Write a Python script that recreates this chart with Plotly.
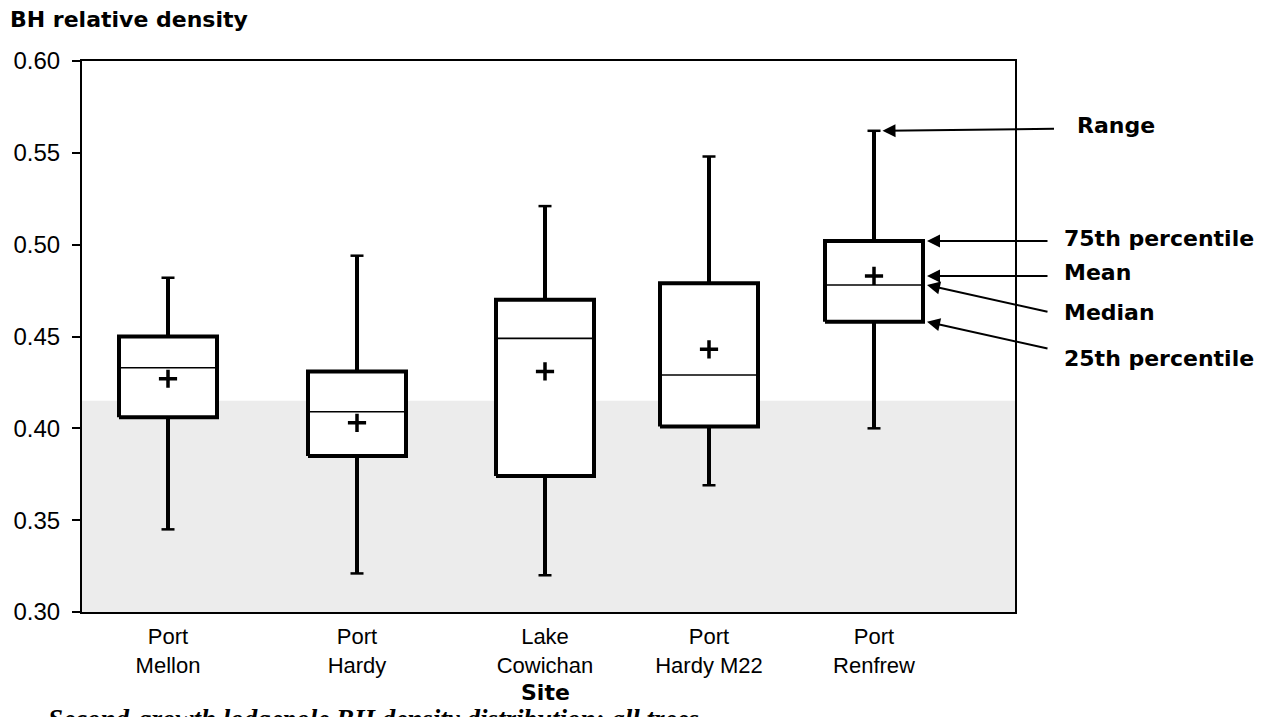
import plotly.graph_objects as go

# ---- data ----
sites = ["Port<br>Mellon", "Port<br>Hardy", "Lake<br>Cowichan", "Port<br>Hardy M22", "Port<br>Renfrew"]
range_max = [0.482, 0.494, 0.521, 0.548, 0.562]
q3_vals = [0.450, 0.431, 0.470, 0.479, 0.502]
median_vals = [0.433, 0.409, 0.449, 0.429, 0.478]
mean_vals = [0.427, 0.403, 0.431, 0.443, 0.483]
q1_vals = [0.406, 0.385, 0.374, 0.401, 0.458]
range_min = [0.345, 0.321, 0.320, 0.369, 0.400]
shade_top = 0.415

# ---- layout helpers (positions / sizes, not data) ----
site_pos = [0.86, 2.75, 4.63, 6.27, 7.92]
half_w = 0.49
cap_w = 0.065
X_MAX = 9.33

BOLD = "DejaVu Sans"
REG = "Liberation Sans, Arial"

fig = go.Figure()

for i, p in enumerate(site_pos):
    # whiskers
    fig.add_trace(go.Scatter(
        x=[p, p, None, p, p],
        y=[q3_vals[i], range_max[i], None, q1_vals[i], range_min[i]],
        mode="lines", line=dict(color="black", width=4),
        hoverinfo="skip", showlegend=False))
    # caps
    fig.add_trace(go.Scatter(
        x=[p - cap_w, p + cap_w, None, p - cap_w, p + cap_w],
        y=[range_max[i], range_max[i], None, range_min[i], range_min[i]],
        mode="lines", line=dict(color="black", width=2.5),
        hoverinfo="skip", showlegend=False))
    # box
    fig.add_trace(go.Scatter(
        x=[p - half_w, p + half_w, p + half_w, p - half_w, p - half_w],
        y=[q1_vals[i], q1_vals[i], q3_vals[i], q3_vals[i], q1_vals[i]],
        mode="lines", fill="toself", fillcolor="white",
        line=dict(color="black", width=4),
        hoverinfo="skip", showlegend=False))
    # median
    fig.add_trace(go.Scatter(
        x=[p - half_w, p + half_w],
        y=[median_vals[i], median_vals[i]],
        mode="lines", line=dict(color="black", width=1.6),
        hoverinfo="skip", showlegend=False))

# means
fig.add_trace(go.Scatter(
    x=site_pos, y=mean_vals, mode="markers",
    marker=dict(symbol="cross-thin", size=13, color="black",
                line=dict(color="black", width=3.5)),
    hoverinfo="skip", showlegend=False))

# shaded band
fig.add_shape(type="rect", xref="paper", yref="y", x0=0, x1=1,
              y0=0.30, y1=shade_top, fillcolor="#ececec",
              line=dict(width=0), layer="below")

# page body has an 8px margin: shift figure margins accordingly
fig.update_layout(
    width=1274, height=717,
    margin=dict(l=74, r=267, t=53, b=113, autoexpand=False),
    paper_bgcolor="white", plot_bgcolor="white",
    xaxis=dict(range=[0, X_MAX], showgrid=False, zeroline=False, automargin=False,
               showline=True, mirror=True, linecolor="black", linewidth=2,
               ticks="", tickvals=site_pos, ticktext=sites,
               ticklabelstandoff=4,
               tickfont=dict(family=REG, size=22, color="black")),
    yaxis=dict(range=[0.30, 0.60], showgrid=False, zeroline=False, automargin=False,
               showline=True, mirror=True, linecolor="black", linewidth=2,
               ticks="outside", ticklen=8, tickwidth=2, tickcolor="black",
               dtick=0.05, tick0=0.30, tickformat=".2f",
               ticklabelstandoff=7,
               tickfont=dict(family=REG, size=24, color="black")),
)

def ptxt(text, x, y, size=22, xanchor="left", yanchor="middle", family=BOLD, **kw):
    fig.add_annotation(text=text, xref="paper", yref="paper", x=x, y=y,
                       xanchor=xanchor, yanchor=yanchor, showarrow=False,
                       font=dict(family=family, size=size, color="black"), **kw)

def px_x(px):
    return (px - 82) / 933.0

def px_y(py):
    return (612 - py) / 551.0

ptxt("<b>BH relative density</b>", px_x(8), px_y(20))
ptxt("<b>Site</b>", px_x(545), px_y(692), xanchor="center")
ptxt("<b>Range</b>", px_x(1075), px_y(126))
ptxt("<b>75th percentile</b>", px_x(1062), px_y(238))
ptxt("<b>Mean</b>", px_x(1062), px_y(272))
ptxt("<b>Median</b>", px_x(1062), px_y(312))
ptxt("<b>25th percentile</b>", px_x(1062), px_y(358))
ptxt("<b><i>Second-growth lodgepole BH density distribution: all trees</i></b>",
     px_x(46), px_y(702), size=27, yanchor="top", family="Liberation Serif, Times New Roman")

# arrows pointing at the Port Renfrew box
r = len(site_pos) - 1
tip_x = site_pos[r] + half_w + 0.04
arrows = [
    (site_pos[r] + cap_w + 0.02, range_max[r], 173, -2),
    (tip_x, q3_vals[r], 122, 0),
    (tip_x, mean_vals[r], 122, 0),
    (tip_x, median_vals[r], 122, 27),
    (tip_x, q1_vals[r], 122, 27),
]
for ax_, ay_, dx, dy in arrows:
    fig.add_annotation(x=ax_, y=ay_, xref="x", yref="y", text="",
                       showarrow=True, ax=dx, ay=dy, axref="pixel", ayref="pixel",
                       arrowhead=2, arrowsize=1.3, arrowwidth=2, arrowcolor="black")

fig.write_html("out.html")
